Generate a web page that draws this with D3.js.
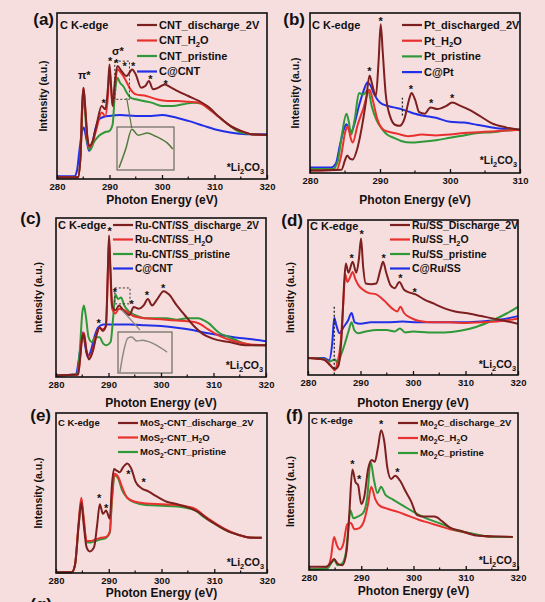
<!DOCTYPE html>
<html>
<head>
<meta charset="utf-8">
<script src="https://cdn.jsdelivr.net/npm/d3@7"></script>
<style>
body { margin: 0; background: #f7dede; }
svg { display: block; }
text { font-family: "Liberation Sans", Arial, sans-serif; font-weight: bold; fill: #111; }
</style>
</head>
<body>
<script>
// energy axis ticks (eV)
var majorTicks = [280, 290, 300, 310, 320];
var majorTicksB = [280, 290, 300, 310];

// ---- panel (a) : CNT ----
var aDischarge = [[280,0.01],[284,0.01],[284.5,0.15],[284.8,0.45],[285.05,0.55],[285.4,0.42],[285.8,0.25],[286.2,0.20],[286.8,0.23],[287.5,0.32],[288.5,0.44],[289.2,0.42],[289.7,0.55],[290.0,0.69],[290.3,0.56],[290.6,0.44],[291,0.58],[291.5,0.68],[292.3,0.65],[293.2,0.62],[293.8,0.64],[294.3,0.66],[295,0.63],[296,0.55],[296.8,0.56],[297.5,0.59],[298.3,0.54],[299.3,0.55],[300.5,0.57],[301.5,0.555],[303,0.53],[305,0.50],[307,0.47],[309,0.43],[311,0.37],[313,0.32],[315,0.29],[317,0.27],[320,0.265]];
var aH2O = [[280,0.01],[284,0.01],[284.5,0.15],[284.8,0.45],[285.05,0.55],[285.4,0.42],[285.8,0.24],[286.2,0.19],[286.8,0.22],[287.5,0.30],[288.5,0.40],[289.2,0.38],[289.7,0.50],[290.0,0.66],[290.3,0.55],[290.6,0.44],[291,0.55],[291.5,0.66],[292.2,0.64],[293,0.60],[294,0.54],[295,0.51],[297,0.50],[299,0.48],[301,0.47],[303,0.47],[305,0.465],[307,0.46],[309,0.42],[311,0.37],[313,0.32],[315,0.29],[317,0.27],[320,0.265]];
var aPristine = [[280,0.01],[284,0.01],[284.5,0.15],[284.8,0.40],[285.05,0.50],[285.4,0.38],[285.8,0.22],[286.3,0.175],[287,0.22],[288,0.26],[289,0.28],[290,0.29],[290.6,0.33],[291,0.50],[291.5,0.61],[292,0.58],[292.6,0.56],[293.3,0.52],[294,0.49],[295,0.48],[296.5,0.47],[298,0.46],[300,0.44],[302,0.44],[304,0.45],[306,0.46],[307.5,0.455],[309,0.42],[311,0.37],[313,0.32],[315,0.28],[317,0.27],[320,0.265]];
var aCarbon = [[280,0.016],[283.3,0.016],[283.8,0.05],[284.3,0.18],[284.8,0.29],[285.1,0.31],[285.6,0.24],[286.1,0.17],[286.7,0.21],[287.3,0.30],[288,0.36],[289,0.375],[290,0.38],[292,0.385],[295,0.38],[298,0.38],[300,0.385],[302,0.375],[305,0.35],[308,0.32],[310,0.30],[313,0.28],[316,0.27],[320,0.27]];
var aInset = [[290.66,0.05],[291.2,0.5],[291.67,0.95],[292.17,0.81],[292.9,0.86],[293.5,0.79],[294.0,0.72],[294.46,0.63],[294.9,0.49]];

// ---- panel (b) : Pt ----
var bDischarge = [[280,0.015],[284.5,0.02],[285,0.08],[285.3,0.11],[285.7,0.09],[286.1,0.085],[286.8,0.16],[287.5,0.31],[288,0.45],[288.5,0.61],[288.9,0.55],[289.4,0.48],[289.8,0.70],[290.1,0.93],[290.4,0.75],[290.8,0.50],[291.4,0.36],[292.2,0.30],[292.8,0.295],[293.5,0.34],[294.1,0.45],[294.5,0.50],[295,0.46],[295.6,0.38],[296.4,0.37],[297.2,0.41],[298.2,0.40],[299.5,0.42],[300.3,0.44],[301.5,0.42],[303,0.39],[304.5,0.35],[306,0.31],[308,0.285],[310,0.27]];
var bH2O = [[280,0.015],[283.8,0.02],[284.5,0.12],[285,0.25],[285.4,0.29],[285.8,0.22],[286.1,0.19],[286.8,0.30],[287.6,0.40],[288.5,0.52],[289,0.45],[289.6,0.34],[290.5,0.27],[291.5,0.255],[292.5,0.245],[294,0.23],[296,0.24],[298,0.235],[300,0.24],[302,0.25],[304,0.255],[306,0.26],[308,0.265],[310,0.27]];
var bPristine = [[280,0.025],[283.3,0.025],[284,0.08],[284.6,0.25],[285.2,0.37],[285.5,0.33],[285.9,0.24],[286.4,0.34],[287,0.50],[287.6,0.49],[288.3,0.52],[288.8,0.42],[289.5,0.33],[290.2,0.28],[291,0.24],[292,0.22],[293,0.20],[294.5,0.19],[296,0.195],[298,0.205],[300,0.22],[302,0.235],[304,0.25],[306,0.255],[308,0.265],[310,0.27]];
var bCarbon = [[280,0.035],[283,0.035],[283.7,0.06],[284.3,0.18],[284.9,0.28],[285.2,0.305],[285.8,0.25],[286.3,0.30],[287,0.42],[287.7,0.52],[288.2,0.565],[288.6,0.55],[289.2,0.49],[290,0.44],[291,0.42],[292,0.41],[293,0.40],[294,0.385],[295,0.37],[296,0.36],[298,0.345],[300,0.32],[302,0.315],[304,0.30],[306,0.285],[308,0.275],[310,0.27]];

// ---- panel (c) : Ru-CNT/SS ----
var cDischarge = [[280,0.01],[284.2,0.015],[284.6,0.12],[285,0.25],[285.3,0.27],[285.8,0.16],[286.3,0.11],[287,0.16],[287.7,0.26],[288.3,0.31],[288.9,0.29],[289.5,0.32],[289.9,0.70],[290.1,0.89],[290.35,0.70],[290.7,0.45],[291.3,0.42],[292,0.45],[293,0.41],[294,0.39],[294.8,0.44],[295.8,0.43],[296.7,0.45],[297.5,0.49],[298.3,0.45],[299.3,0.49],[300.5,0.54],[301.5,0.52],[303,0.45],[304.5,0.39],[306,0.33],[308,0.27],[310,0.24],[313,0.22],[316,0.20],[320,0.20]];
var cH2O = [[280,0.01],[284.2,0.015],[284.6,0.12],[285,0.26],[285.3,0.28],[285.8,0.17],[286.3,0.12],[287,0.17],[287.7,0.27],[288.3,0.31],[288.9,0.30],[289.5,0.32],[289.9,0.66],[290.1,0.86],[290.35,0.66],[290.7,0.43],[291.3,0.40],[292,0.43],[293,0.42],[294,0.40],[295,0.38],[297,0.37],[299,0.365],[301,0.36],[303,0.355],[305,0.35],[307,0.34],[309,0.30],[311,0.26],[314,0.225],[317,0.205],[320,0.20]];
var cPristine = [[280,0.01],[284,0.015],[284.5,0.15],[285,0.40],[285.3,0.45],[285.7,0.38],[286.2,0.25],[286.8,0.22],[287.5,0.25],[288.3,0.25],[289,0.21],[289.6,0.20],[290.4,0.22],[290.9,0.38],[291.3,0.52],[291.8,0.49],[292.4,0.50],[293,0.45],[294,0.41],[295,0.39],[297,0.37],[299,0.37],[301,0.37],[303,0.36],[305,0.37],[307,0.37],[309,0.34],[311,0.28],[313,0.25],[316,0.21],[318,0.20],[320,0.20]];
var cCarbon = [[280,0.01],[283.8,0.015],[284.3,0.10],[284.8,0.22],[285.1,0.28],[285.5,0.21],[286,0.13],[286.6,0.16],[287.3,0.25],[288,0.31],[289,0.33],[291,0.33],[294,0.33],[297,0.325],[300,0.32],[303,0.31],[306,0.295],[309,0.275],[312,0.26],[315,0.245],[318,0.235],[320,0.225]];
var cInset = [[291.2,0.02],[291.5,0.44],[292.0,0.85],[292.4,0.88],[292.9,0.78],[293.5,0.80],[294.2,0.76],[294.9,0.68],[296.0,0.51]];

// ---- panel (d) : Ru/SS ----
var dDischarge = [[280,0.11],[283,0.10],[284,0.07],[284.8,0.045],[285.3,0.04],[285.8,0.06],[286.4,0.25],[286.9,0.60],[287.2,0.72],[287.7,0.66],[288.5,0.73],[289.2,0.66],[289.7,0.75],[290.1,0.88],[290.5,0.70],[291,0.59],[292,0.585],[293,0.59],[293.8,0.68],[294.3,0.73],[294.9,0.66],[295.7,0.58],[296.5,0.56],[297.4,0.60],[298.3,0.55],[299.5,0.53],[300.5,0.52],[302,0.49],[304,0.46],[306,0.43],[308,0.41],[310,0.40],[313,0.38],[316,0.36],[320,0.33]];
var dH2O = [[280,0.11],[283,0.10],[284,0.075],[284.7,0.045],[285.1,0.03],[285.6,0.08],[286.2,0.20],[286.7,0.45],[287.1,0.65],[287.5,0.60],[288,0.63],[288.5,0.665],[289,0.62],[289.6,0.58],[290.5,0.55],[291.5,0.53],[293,0.52],[294.5,0.48],[296,0.43],[297,0.41],[297.6,0.44],[298.3,0.40],[299.5,0.37],[301,0.35],[304,0.34],[307,0.34],[310,0.335],[313,0.34],[316,0.345],[320,0.365]];
var dPristine = [[280,0.11],[283,0.105],[284,0.085],[284.7,0.095],[285.2,0.10],[285.6,0.075],[286.3,0.13],[287,0.20],[287.7,0.28],[288.3,0.34],[288.8,0.29],[289.5,0.27],[291,0.28],[293,0.29],[295,0.29],[296.5,0.28],[297.5,0.30],[298.5,0.275],[300,0.28],[303,0.275],[306,0.275],[309,0.285],[312,0.31],[315,0.35],[318,0.40],[320,0.44]];
var dCarbon = [[280,0.11],[283,0.11],[284,0.095],[284.6,0.20],[285,0.37],[285.4,0.32],[286,0.27],[286.8,0.31],[287.6,0.35],[288.3,0.40],[288.9,0.34],[290,0.33],[292,0.34],[295,0.34],[298,0.345],[301,0.34],[304,0.34],[307,0.34],[310,0.34],[313,0.345],[316,0.355],[318,0.365],[320,0.38]];

// ---- panel (e) : MoS2-CNT ----
var eDischarge = [[280,0.005],[283,0.005],[283.6,0.05],[284.3,0.30],[284.8,0.44],[285.2,0.32],[285.8,0.16],[286.4,0.135],[287.2,0.16],[287.8,0.30],[288.3,0.43],[288.9,0.37],[289.5,0.39],[290.2,0.34],[290.6,0.55],[291,0.65],[291.5,0.64],[292.1,0.63],[292.7,0.66],[293.5,0.685],[294.3,0.65],[295.1,0.57],[296.2,0.53],[297.5,0.51],[299,0.48],[301,0.445],[303,0.43],[305,0.41],[307,0.38],[309,0.33],[311,0.29],[313,0.255],[315,0.235],[317,0.22],[319,0.22]];
var eH2O = [[280,0.005],[283,0.005],[283.6,0.05],[284.3,0.32],[284.8,0.47],[285.2,0.36],[285.8,0.20],[286.5,0.20],[287.5,0.21],[288.5,0.22],[289.5,0.225],[290.2,0.26],[290.6,0.47],[291.1,0.62],[291.8,0.60],[292.5,0.54],[293.5,0.47],[295,0.445],[297,0.435],[300,0.43],[303,0.425],[305,0.415],[306.5,0.40],[308,0.36],[310,0.315],[312,0.275],[314,0.245],[316,0.225],[318,0.22],[319,0.22]];
var ePristine = [[280,0.005],[283,0.005],[283.6,0.05],[284.3,0.30],[284.8,0.45],[285.2,0.35],[285.8,0.19],[286.5,0.19],[287.5,0.20],[288.5,0.21],[289.5,0.22],[290.2,0.25],[290.6,0.45],[291.2,0.61],[291.8,0.59],[292.5,0.52],[293.5,0.47],[295,0.44],[297,0.425],[300,0.42],[303,0.415],[305,0.405],[306.5,0.39],[308,0.35],[310,0.31],[312,0.27],[314,0.245],[316,0.225],[318,0.22],[319,0.22]];

// ---- panel (f) : Mo2C ----
var fDischarge = [[280,0.02],[283.2,0.02],[284.3,0.05],[284.8,0.07],[285.5,0.04],[286.4,0.03],[287.2,0.12],[287.7,0.35],[288.3,0.64],[288.9,0.56],[289.4,0.54],[290,0.42],[290.6,0.47],[291.3,0.64],[292,0.70],[292.6,0.69],[293.2,0.78],[293.8,0.89],[294.4,0.82],[295,0.65],[295.7,0.58],[296.5,0.60],[297.4,0.57],[298.5,0.50],[299.5,0.44],[300.7,0.35],[302,0.34],[304,0.34],[305.5,0.31],[307,0.27],[309,0.25],[312,0.22],[315,0.215],[319,0.21]];
var fH2O = [[280,0.005],[283.5,0.015],[284.2,0.08],[284.8,0.21],[285.3,0.16],[285.9,0.13],[286.6,0.17],[287.3,0.29],[288,0.30],[288.7,0.26],[289.5,0.265],[290.5,0.31],[291.3,0.42],[291.9,0.53],[292.7,0.45],[293.5,0.41],[295,0.39],[297,0.37],[299,0.345],[301,0.32],[303,0.30],[305,0.28],[307,0.26],[309,0.245],[312,0.225],[315,0.21],[319,0.21]];
var fPristine = [[280,0.005],[283.5,0.01],[284.4,0.05],[284.8,0.065],[285.5,0.03],[286.3,0.04],[287,0.10],[287.5,0.25],[287.9,0.38],[288.5,0.33],[289.3,0.34],[290.3,0.36],[291.1,0.45],[291.8,0.69],[292.4,0.58],[293.1,0.49],[293.8,0.53],[294.6,0.48],[296,0.45],[298,0.41],[300,0.37],[302,0.335],[304,0.31],[306,0.285],[308,0.255],[310,0.24],[313,0.22],[316,0.21],[319,0.21]];

// Li2CO3 peak markers (*) per panel: [energy, intensity]
var aStars = [[288.9,0.47],[290.1,0.72],[291.3,0.71],[292.9,0.69],[294.5,0.69],[297.8,0.615],[300.7,0.585]];
var bStars = [[288.5,0.65],[290.1,0.965],[294.4,0.54],[297.3,0.45],[300.3,0.48]];
var cStars = [[288.1,0.35],[290.2,0.93],[291.2,0.55],[294.4,0.47],[297.3,0.53],[300.4,0.57]];
var dStars = [[288.3,0.77],[290.2,0.92],[294.4,0.77],[297.6,0.64],[300.3,0.55]];
var eStars = [[288.2,0.48],[289.5,0.42],[293.7,0.63],[296.6,0.58]];
var fStars = [[288.3,0.69],[289.6,0.59],[293.8,0.94],[296.9,0.64]];

var colors = {discharge: "#7d1f1f", h2o: "#e8302e", pristine: "#2f9838", carbon: "#2130e6"};

// layout of the six panels
var panels = [
  {label: "(a)", labelPos: [54, 25], box: [57, 13, 267, 179], xDomain: [280, 320], ticks: majorTicks, titleDy: 25, ylabX: 43,
   legend: {x: 137, y: 25, dy: 15.5, fs: 11}, edge: [60, 25, 11], li: [264, 171],
   series: [["C@CNT", aCarbon, "carbon"], ["CNT_pristine", aPristine, "pristine"], ["CNT_H~2O", aH2O, "h2o"], ["CNT_discharge_2V", aDischarge, "discharge"]],
   legendOrder: [3, 2, 1, 0], stars: aStars,
   greek: [["π*", 285.2, 0.6], ["σ*", 291.6, 0.745]],
   dashBox: [291.0, 293.8, 0.48, 0.71], inset: {rect: [117, 127, 174, 170], domain: [290.5, 295], data: aInset, color: "#4f7a3c", link: [[126.7, 98], [131.7, 128]]}},
  {label: "(b)", labelPos: [305, 25], box: [310, 13, 520, 173], xDomain: [280, 310], ticks: majorTicksB, titleDy: 31, ylabX: 295,
   legend: {x: 402, y: 25, dy: 15.7, fs: 11}, edge: [312, 25, 11], li: [517, 164],
   series: [["C@Pt", bCarbon, "carbon"], ["Pt_pristine", bPristine, "pristine"], ["Pt_H~2O", bH2O, "h2o"], ["Pt_discharged_2V", bDischarge, "discharge"]],
   legendOrder: [3, 2, 1, 0], stars: bStars, vline: [293.2, 0.36, 0.47]},
  {label: "(c)", labelPos: [41, 224], box: [56, 218, 266, 377], xDomain: [280, 320], ticks: majorTicks, titleDy: 30, ylabX: 38,
   legend: {x: 113, y: 225, dy: 14.5, fs: 10}, edge: [58, 225, 11], li: [263, 369],
   series: [["C@CNT", cCarbon, "carbon"], ["Ru-CNT/SS_pristine", cPristine, "pristine"], ["Ru-CNT/SS_H~2O", cH2O, "h2o"], ["Ru-CNT/SS_discharge_2V", cDischarge, "discharge"]],
   legendOrder: [3, 2, 1, 0], stars: cStars,
   dashBox: [291.2, 294.1, 0.46, 0.56], inset: {rect: [118, 332, 172, 373], domain: [291, 296.5], data: cInset, color: "#8c8a80", link: [[122, 310], [140, 330]]}},
  {label: "(d)", labelPos: [303, 226], box: [308, 220, 518, 375], xDomain: [280, 320], ticks: majorTicks, titleDy: 32, ylabX: 290,
   legend: {x: 390, y: 225, dy: 14.5, fs: 10.5}, edge: [310, 226, 11], li: [516, 368],
   series: [["C@Ru/SS", dCarbon, "carbon"], ["Ru/SS_pristine", dPristine, "pristine"], ["Ru/SS_H~2O", dH2O, "h2o"], ["Ru/SS_Discharge_2V", dDischarge, "discharge"]],
   legendOrder: [3, 2, 1, 0], stars: dStars, vline: [285, 0.04, 0.45]},
  {label: "(e)", labelPos: [51, 421], box: [56, 413, 267, 573], xDomain: [280, 320], ticks: majorTicks, titleDy: 23.5, ylabX: 38,
   legend: {x: 118, y: 423, dy: 14.5, fs: 9.5}, edge: [58, 423, 9.5], li: [264, 566],
   series: [["MoS~2-CNT_pristine", ePristine, "pristine"], ["MoS~2-CNT_H~2O", eH2O, "h2o"], ["MoS~2-CNT_discharge_2V", eDischarge, "discharge"]],
   legendOrder: [2, 1, 0], stars: eStars},
  {label: "(f)", labelPos: [303, 421], box: [309, 413, 518, 570], xDomain: [280, 320], ticks: majorTicks, titleDy: 25, ylabX: 290,
   legend: {x: 398, y: 423, dy: 15, fs: 9.5}, edge: [311, 421, 9.5], li: [516, 564],
   series: [["Mo~2C_H~2O", fH2O, "h2o"], ["Mo~2C_pristine", fPristine, "pristine"], ["Mo~2C_discharge_2V", fDischarge, "discharge"]],
   legendOrder: [2, 0, 1], stars: fStars}
];

var svg = d3.select("body").append("svg")
    .attr("width", 545)
    .attr("height", 602);

svg.append("rect").attr("width", 545).attr("height", 602).attr("fill", "#f7dede");

// text with "~2" style subscripts
function richText(sel, str, fs) {
  var parts = str.split(/~(\d)/);
  var down = false;
  parts.forEach(function(p, i) {
    if (p === "") return;
    var t = sel.append("tspan").text(p);
    if (i % 2 === 1) {
      t.attr("dy", fs * 0.25).attr("font-size", fs * 0.7);
      down = true;
    } else if (down) {
      t.attr("dy", -fs * 0.25);
      down = false;
    }
  });
}

panels.forEach(function(p) {
  var x0 = p.box[0], y0 = p.box[1], x1 = p.box[2], y1 = p.box[3];
  var x = d3.scaleLinear().domain(p.xDomain).range([x0, x1]);
  var y = d3.scaleLinear().domain([0, 1]).range([y1, y0]);
  var g = svg.append("g");

  var line = d3.line()
      .x(function(d) { return x(d[0]); })
      .y(function(d) { return y(d[1]); })
      .curve(d3.curveMonotoneX);

  g.selectAll("path.spec")
      .data(p.series)
      .enter().append("path")
      .attr("class", "spec")
      .attr("d", function(d) { return line(d[1]); })
      .attr("fill", "none")
      .attr("stroke", function(d) { return colors[d[2]]; })
      .attr("stroke-width", 2)
      .attr("stroke-linejoin", "round");

  // dashed selection box + inset
  if (p.dashBox) {
    g.append("rect")
        .attr("x", x(p.dashBox[0])).attr("y", y(p.dashBox[3]))
        .attr("width", x(p.dashBox[1]) - x(p.dashBox[0]))
        .attr("height", y(p.dashBox[2]) - y(p.dashBox[3]))
        .attr("fill", "none").attr("stroke", "#333").attr("stroke-width", 1)
        .attr("stroke-dasharray", "2,2");
  }
  if (p.inset) {
    var r = p.inset.rect;
    g.append("line")
        .attr("x1", p.inset.link[0][0]).attr("y1", p.inset.link[0][1])
        .attr("x2", p.inset.link[1][0]).attr("y2", p.inset.link[1][1])
        .attr("stroke", p.inset.color).attr("stroke-width", 1.2);
    g.append("rect")
        .attr("x", r[0]).attr("y", r[1]).attr("width", r[2] - r[0]).attr("height", r[3] - r[1])
        .attr("fill", "none").attr("stroke", "#6a6a60").attr("stroke-width", 1.2);
    var ix = d3.scaleLinear().domain(p.inset.domain).range([r[0], r[2]]);
    var iy = d3.scaleLinear().domain([0, 1]).range([r[3], r[1]]);
    g.append("path")
        .attr("d", d3.line().x(function(d) { return ix(d[0]); }).y(function(d) { return iy(d[1]); }).curve(d3.curveMonotoneX)(p.inset.data))
        .attr("fill", "none").attr("stroke", p.inset.color).attr("stroke-width", 1.5);
  }
  if (p.vline) {
    g.append("line")
        .attr("x1", x(p.vline[0])).attr("x2", x(p.vline[0]))
        .attr("y1", y(p.vline[1])).attr("y2", y(p.vline[2]))
        .attr("stroke", "#222").attr("stroke-width", 1.3).attr("stroke-dasharray", "2,2");
  }

  // asterisks
  g.selectAll("text.star")
      .data(p.stars)
      .enter().append("text")
      .attr("class", "star")
      .attr("x", function(d) { return x(d[0]); })
      .attr("y", function(d) { return y(d[1]) + 6; })
      .attr("text-anchor", "middle")
      .attr("font-size", 11)
      .text("*");

  if (p.greek) {
    g.selectAll("text.greek")
        .data(p.greek)
        .enter().append("text")
        .attr("x", function(d) { return x(d[1]); })
        .attr("y", function(d) { return y(d[2]); })
        .attr("text-anchor", "middle")
        .attr("font-size", 11)
        .attr("font-weight", "normal")
        .text(function(d) { return d[0]; });
  }

  // frame
  g.append("rect")
      .attr("x", x0).attr("y", y0).attr("width", x1 - x0).attr("height", y1 - y0)
      .attr("fill", "none").attr("stroke", "#111").attr("stroke-width", 1.6);

  // x axis
  var minor = d3.range(p.xDomain[0] + 5, p.xDomain[1], 10);
  var ax = g.append("g")
      .attr("transform", "translate(0," + y1 + ")")
      .call(d3.axisBottom(x).tickValues(p.ticks).tickSize(-4).tickPadding(4.5).tickFormat(d3.format("d")));
  ax.select(".domain").remove();
  ax.selectAll(".tick line").attr("stroke", "#111").attr("stroke-width", 1.3);
  ax.selectAll("text").attr("font-size", 9.5).attr("font-family", "Liberation Sans, Arial, sans-serif")
      .attr("font-weight", "bold").attr("fill", "#111");
  g.selectAll("line.minor")
      .data(minor)
      .enter().append("line")
      .attr("x1", function(d) { return x(d); }).attr("x2", function(d) { return x(d); })
      .attr("y1", y1).attr("y2", y1 - 2.5)
      .attr("stroke", "#111").attr("stroke-width", 1.2);

  g.append("text")
      .attr("x", (x0 + x1) / 2).attr("y", y1 + p.titleDy)
      .attr("text-anchor", "middle").attr("font-size", 12)
      .text("Photon Energy (eV)");

  g.append("text")
      .attr("transform", "translate(" + p.ylabX + "," + ((y0 + y1) / 2) + ") rotate(-90)")
      .attr("text-anchor", "middle").attr("font-size", 10.5).attr("dy", "0.35em")
      .text("Intensity (a.u.)");

  g.append("text")
      .attr("x", p.labelPos[0]).attr("y", p.labelPos[1])
      .attr("text-anchor", "end").attr("font-size", 17)
      .text(p.label);

  g.append("text")
      .attr("x", p.edge[0]).attr("y", p.edge[1])
      .attr("dy", "0.35em").attr("font-size", p.edge[2])
      .text("C K-edge");

  var li = g.append("text")
      .attr("x", p.li[0]).attr("y", p.li[1])
      .attr("text-anchor", "end").attr("font-size", 10.5);
  richText(li, "*Li~2CO~3", 10.5);

  // legend
  var lg = g.append("g");
  p.legendOrder.forEach(function(idx, i) {
    var s = p.series[idx];
    var yy = p.legend.y + i * p.legend.dy;
    lg.append("line")
        .attr("x1", p.legend.x).attr("x2", p.legend.x + 20)
        .attr("y1", yy).attr("y2", yy)
        .attr("stroke", colors[s[2]]).attr("stroke-width", 2.2);
    var t = lg.append("text")
        .attr("x", p.legend.x + 22).attr("y", yy).attr("dy", "0.35em")
        .attr("font-size", p.legend.fs);
    richText(t, s[0], p.legend.fs);
  });
});

// the next panel is cut off at the bottom edge
svg.append("text")
    .attr("x", 52).attr("y", 610)
    .attr("text-anchor", "end").attr("font-size", 17)
    .text("(g)");
</script>
</body>
</html>
